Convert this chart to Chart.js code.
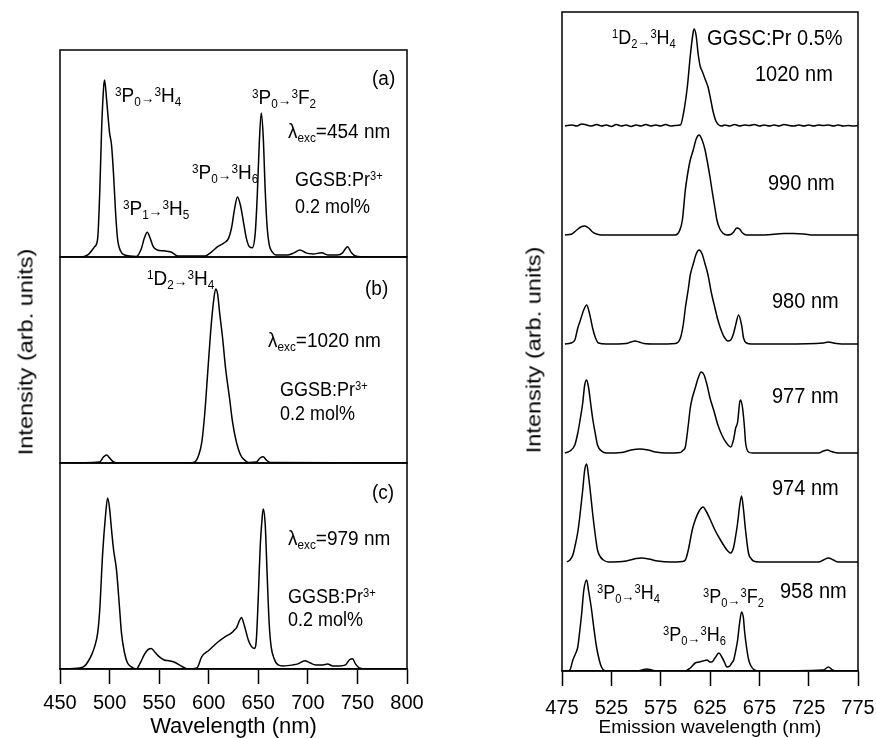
<!DOCTYPE html>
<html>
<head>
<meta charset="utf-8">
<script src="https://cdn.jsdelivr.net/npm/chart.js@4.4.1/dist/chart.umd.min.js"></script>
<style>
  body { margin: 0; background: #fff; width: 876px; height: 738px; overflow: hidden; position: relative; font-family: "Liberation Sans", Arial, sans-serif; }
  canvas { position: absolute; }
  .t { position: absolute; white-space: nowrap; line-height: 1; transform: translateY(-50%) scaleY(1.08); transform-origin: left center; color: #000; }
  .sp { font-size: 0.62em; position: relative; top: -0.55em; }
  .sb { font-size: 0.62em; position: relative; top: 0.3em; }
  .ar { font-size: 0.72em; position: relative; top: 0.05em; }
  .yl { position: absolute; white-space: nowrap; line-height: 1; color: #000; font-size: 21px; }
</style>
</head>
<body>
<canvas id="chart-a" width="407" height="211" style="left:30px;top:48px"></canvas>
<canvas id="chart-b" width="407" height="210" style="left:30px;top:255px"></canvas>
<canvas id="chart-c" width="407" height="285" style="left:30px;top:461px"></canvas>
<canvas id="chart-r" width="350" height="734" style="left:532px;top:10px"></canvas>
<div id="labels"></div>
<script>
// tick labels
const leftTicks = [450, 500, 550, 600, 650, 700, 750, 800];
const rightTicks = [475, 525, 575, 625, 675, 725, 775];

// (a) exc 454 nm
const wlA = [450, 470, 478, 485, 488, 490, 492, 494, 495, 497, 500, 502, 504, 506, 508, 511, 515, 527, 532, 535, 538, 541, 544, 548, 555, 562, 569, 596, 603, 609, 616, 620, 623, 626, 629, 632, 635, 638, 641, 644, 647, 649, 651, 653, 655, 657, 659, 661, 664, 668, 680, 686, 692, 698, 705, 714, 720, 730, 735, 740, 744, 748, 760, 800];
const intA = [0, 0, 1, 5, 9, 30, 62, 82, 85.5, 76, 60, 54, 40, 22, 9, 3, 1, 0.3, 4, 9, 12, 9, 5, 3.4, 3, 2.4, 0.5, 0.5, 2.5, 5, 7, 9, 14, 23, 29, 25, 17, 9, 5, 4.5, 12, 30, 55, 69.6, 58, 32, 14, 6, 2.5, 1, 1, 2, 3.4, 2, 1.5, 2, 1, 1, 2, 5, 2, 0.5, 0, 0];

// (b) exc 1020 nm
const wlB = [450, 490, 494, 497, 500, 504, 510, 580, 586, 590, 593, 596, 599, 602, 605, 607, 609, 611, 614, 617, 621, 624, 628, 632, 636, 640, 648, 652, 655, 658, 662, 800];
const intB = [0, 0.5, 3, 3.9, 2.5, 0.5, 0, 0, 0.5, 4, 10, 24, 44, 64, 79, 84.5, 82, 73, 60.7, 46, 31.5, 20, 10, 4, 1.5, 0.3, 0.5, 2.5, 3, 1.5, 0.3, 0];

// (c) exc 979 nm
const wlC = [450, 470, 475, 478, 482, 485, 488, 490, 493, 496, 498, 500, 502, 504, 507, 510, 512, 515, 518, 522, 527, 531, 535, 539, 542, 546, 550, 555, 560, 565, 572, 579, 588, 593, 600, 609, 616, 623, 626, 628, 631, 633, 636, 640, 643, 646, 648, 650, 652, 654, 655, 657, 659, 661, 663, 666, 670, 675, 685, 690, 697, 702, 708, 715, 720, 725, 732, 738, 742, 745, 748, 752, 760, 800];
const intC = [0, 0.5, 1.5, 3.4, 7, 11, 17.5, 28, 56, 75, 83, 78, 67.5, 58, 48, 30, 17.5, 8, 3, 1, 0, 3, 7, 9.5, 10, 8, 6, 4.4, 4, 3.4, 1.5, 0, 0.5, 6, 9, 13, 15.5, 17.5, 19, 20, 23.5, 25, 21, 14, 11, 10, 14, 35, 60, 74, 77.7, 70, 45, 22, 10.7, 5, 2, 1.5, 2, 2.5, 4, 3, 2, 2, 2.4, 1.5, 1.5, 2, 4.5, 5, 2.5, 0.5, 0, 0];

// right panel: GGSC:Pr 0.5%, excitation wavelengths
const excR = ["1020 nm", "990 nm", "980 nm", "977 nm", "974 nm", "958 nm"];

const wl1020 = [478, 485, 490, 495, 500, 505, 510, 515, 520, 525, 530, 535, 540, 545, 550, 555, 560, 565, 570, 575, 580, 585, 590, 595, 598, 602, 605, 608, 609, 611, 613, 615, 617, 620, 623, 626, 628, 631, 634, 637, 640, 645, 650, 655, 660, 665, 670, 675, 680, 685, 690, 695, 700, 705, 710, 715, 720, 725, 730, 735, 740, 745, 750, 755, 760, 765, 770, 775];
const int1020 = [0, 1, 0, 2, 1, 0, 1.5, 0, 1, -0.5, 1.5, 0, 1, -0.5, 1, 0, 1.5, 0, 1, 0, 1.5, 0, 0.5, 1, 12, 39, 70, 94, 97, 90, 72, 60, 55, 47, 39, 25, 15, 5, 1, 0, 1, 0, 1.5, 0, 1, 0.5, 1.5, 0, 1, 0, 1, 0, 1.5, 0.5, 0, 1, 0, 1, 0, 1, 0.5, 1, 0, 1, 0, 0.5, 0, 0.5];

const wl990 = [478, 485, 490, 494, 498, 502, 506, 510, 515, 590, 594, 597, 600, 603, 605, 608, 611, 614, 617, 620, 622, 625, 627, 630, 632, 635, 638, 642, 646, 649, 652, 655, 658, 662, 680, 700, 710, 720, 730, 775];
const int990 = [0, 1, 5, 8, 9, 7, 3, 1, 0, 0, 4, 15, 45, 65, 75, 85, 96, 100, 95, 85, 75, 58, 45, 27, 15, 6, 2, 0, 0.5, 3, 7, 6, 2, 0, 0, 1.5, 1.5, 1, 0, 0];

const wl980 = [478, 484, 488, 491, 494, 497, 500, 503, 506, 509, 512, 520, 540, 545, 549, 553, 558, 570, 590, 595, 598, 600, 603, 605, 608, 611, 614, 617, 620, 623, 626, 630, 633, 637, 640, 643, 646, 649, 651, 654, 657, 659, 662, 667, 700, 740, 745, 750, 760, 775];
const int980 = [0, 1, 4, 16, 25, 34, 39, 30, 16, 6, 1, 0, 0.5, 2, 3, 2, 0.5, 0, 0.5, 6, 20, 36, 55, 69, 80, 90, 94, 90, 80, 69, 53, 36, 24, 12, 6, 3, 4, 11, 19, 29, 19, 6, 1, 0, 0, 1, 2, 1, 0, 0];

const wl977 = [478, 483, 488, 491, 493, 496, 498, 500, 502, 504, 506, 509, 511, 515, 520, 535, 545, 554, 562, 570, 580, 595, 598, 600, 603, 605, 607, 610, 613, 616, 619, 622, 625, 629, 633, 637, 641, 646, 649, 651, 653, 655, 656, 658, 660, 661, 664, 668, 735, 740, 744, 748, 755, 775];
const int977 = [0, 2, 8, 20, 31, 50, 68, 73, 65, 50, 35, 18, 8, 2, 0, 0.5, 3, 4, 3, 1, 0, 0.5, 3, 6, 28, 45, 55, 65, 75, 81, 78, 68, 55, 42, 28, 18, 11, 6, 14, 25, 31, 50, 53, 45, 25, 11, 1, 0, 0, 2, 3, 1.5, 0, 0];

const wl974 = [480, 483, 486, 488, 491, 493, 496, 498, 500, 502, 504, 506, 509, 511, 514, 517, 522, 540, 550, 556, 563, 572, 585, 597, 600, 603, 607, 610, 614, 618, 621, 625, 630, 635, 640, 643, 646, 649, 651, 653, 655, 657, 659, 661, 664, 667, 669, 675, 735, 740, 745, 750, 755, 775];
const int974 = [0, 2, 7, 15, 30, 45, 72, 92, 98, 85, 68, 49, 25, 12, 5, 2, 0, 1, 3.5, 4, 3, 1, 0, 0.5, 2, 12, 32, 42, 51, 55, 51, 43, 32, 23, 15, 11, 9, 15, 26, 39, 56, 66, 52, 32, 9, 3, 1, 0, 0, 2, 4, 2, 0, 0];

const wl958 = [480, 483, 486, 489, 491, 493, 495, 497, 500, 502, 505, 507, 510, 513, 515, 519, 550, 556, 561, 566, 572, 600, 605, 610, 614, 618, 622, 625, 627, 630, 634, 637, 640, 642, 645, 647, 649, 651, 653, 655, 657, 659, 660, 662, 664, 666, 670, 675, 740, 745, 749, 755, 775];
const int958 = [0, 1, 11, 18, 24, 40, 58, 80, 91, 80, 61, 45, 24, 10, 4, 0, 0, 1, 2, 1, 0, 0, 3, 8, 9, 10, 11, 9, 9, 13, 18, 14, 8, 4, 5, 8, 11, 20, 31, 48, 59, 52, 40, 24, 12, 6, 1, 0, 1, 4, 1, 0, 0];

const SPACING = 109; // vertical offset between stacked right-panel spectra
const FONT = '"Liberation Sans", Arial, sans-serif';

const pts = (xs, ys, off = 0) => xs.map((x, i) => ({ x, y: ys[i] + off }));

const framePlugin = {
  id: "frame",
  afterDatasetsDraw(chart) {
    const { ctx, chartArea: a } = chart;
    ctx.save();
    ctx.strokeStyle = "#000";
    ctx.lineWidth = 1.5;
    ctx.strokeRect(a.left, a.top, a.right - a.left, a.bottom - a.top);
    ctx.restore();
  },
};

function lineSet(data) {
  return {
    data,
    borderColor: "#000",
    borderWidth: 1.5,
    pointRadius: 0,
    fill: false,
    cubicInterpolationMode: "monotone",
  };
}

function baseOpts(xmin, xmax, ymax, pad) {
  return {
    responsive: false,
    animation: false,
    devicePixelRatio: 1,
    layout: { padding: pad },
    plugins: { legend: { display: false }, tooltip: { enabled: false } },
    scales: {
      x: { type: "linear", min: xmin, max: xmax, display: false },
      y: { min: 0, max: ymax, display: false },
    },
  };
}

// tick label centre = axis top + 15 + 3 + tickLH/2; title centre = axis bottom - titleLH/2
function xAxis(xmin, xmax, ticks, title, titleSize, tickLH, titleLH, titleTop) {
  return {
    type: "linear",
    min: xmin,
    max: xmax,
    grid: { drawOnChartArea: false, drawTicks: true, tickLength: 15, tickWidth: 1.5, tickColor: "#000" },
    border: { display: true, color: "#000", width: 1.5 },
    afterBuildTicks: (s) => { s.ticks = ticks.map((v) => ({ value: v })); },
    ticks: { color: "#000", font: { size: 20, family: FONT, lineHeight: tickLH }, padding: 3, maxRotation: 0, autoSkip: false },
    title: { display: true, text: title, color: "#000", font: { size: titleSize, family: FONT, lineHeight: titleLH }, padding: { top: titleTop, bottom: 0 } },
  };
}

new Chart(document.getElementById("chart-a"), {
  type: "line",
  data: { datasets: [lineSet(pts(wlA, intA))] },
  options: baseOpts(450, 800, 100, { left: 30, right: 30, top: 2, bottom: 2 }),
  plugins: [framePlugin],
});

new Chart(document.getElementById("chart-b"), {
  type: "line",
  data: { datasets: [lineSet(pts(wlB, intB))] },
  options: baseOpts(450, 800, 100, { left: 30, right: 30, top: 2, bottom: 2 }),
  plugins: [framePlugin],
});

const optsC = baseOpts(450, 800, 100, { left: 30, right: 30, top: 2, bottom: 14 });
optsC.scales.x = xAxis(450, 800, leftTicks, "Wavelength (nm)", 22, 1.6, 10 / 22, 0);
new Chart(document.getElementById("chart-c"), {
  type: "line",
  data: { datasets: [lineSet(pts(wlC, intC))] },
  options: optsC,
  plugins: [framePlugin],
});

const rightSets = [
  [wl1020, int1020],
  [wl990, int990],
  [wl980, int980],
  [wl977, int977],
  [wl974, int974],
  [wl958, int958],
];
const optsR = baseOpts(475, 775, 659, { left: 30, right: 24, top: 2, bottom: 14 });
optsR.scales.x = xAxis(475, 775, rightTicks, "Emission wavelength (nm)", 19, 1.9, 4 / 19, -4);
new Chart(document.getElementById("chart-r"), {
  type: "line",
  data: {
    datasets: rightSets.map(([xs, ys], i) => ({
      label: excR[i],
      ...lineSet(pts(xs, ys, (rightSets.length - 1 - i) * SPACING)),
    })),
  },
  options: optsR,
  plugins: [framePlugin],
});

// annotations
const sp = (t) => `<span class="sp">${t}</span>`;
const sb = (t) => `<span class="sb">${t}</span>`;
const ar = `<span class="ar">→</span>`;
const tr = (a, b, c, d, e, f) => `${sp(a)}${b}${sb(c)}${ar}${sp(d)}${e}${sb(f)}`;
const exc = (v) => `λ${sb("exc")}=${v}`;
const ggsb = `GGSB:Pr${sp("3+")}`;

const notes = [
  [115, 95, 19, tr("3", "P", "0", "3", "H", "4")],
  [123, 208, 19, tr("3", "P", "1", "3", "H", "5")],
  [192, 172, 19, tr("3", "P", "0", "3", "H", "6")],
  [252, 97, 19, tr("3", "P", "0", "3", "F", "2")],
  [372, 78, 19, "(a)"],
  [288, 131, 19, exc("454 nm")],
  [295, 180, 18, ggsb],
  [295, 207, 18, "0.2 mol%"],
  [147, 278, 19, tr("1", "D", "2", "3", "H", "4")],
  [365, 288, 19, "(b)"],
  [268, 340, 19, exc("1020 nm")],
  [280, 390, 18, ggsb],
  [280, 414, 18, "0.2 mol%"],
  [372, 492, 19, "(c)"],
  [288, 538, 19, exc("979 nm")],
  [288, 597, 18, ggsb],
  [288, 620, 18, "0.2 mol%"],
  [612, 38, 18, tr("1", "D", "2", "3", "H", "4")],
  [707, 37, 20, "GGSC:Pr 0.5%"],
  [755, 73, 20, excR[0]],
  [768, 182, 20, excR[1]],
  [772, 300, 20, excR[2]],
  [772, 395, 20, excR[3]],
  [772, 487, 20, excR[4]],
  [780, 590, 20, excR[5]],
  [597, 593, 18, tr("3", "P", "0", "3", "H", "4")],
  [703, 597, 18, tr("3", "P", "0", "3", "F", "2")],
  [663, 635, 18, tr("3", "P", "0", "3", "H", "6")],
];

const box = document.getElementById("labels");
notes.forEach(([x, y, size, html]) => {
  const d = document.createElement("div");
  d.className = "t";
  d.style.left = x + "px";
  d.style.top = y + "px";
  d.style.fontSize = size + "px";
  d.innerHTML = html;
  box.appendChild(d);
});

// rotated y titles
[[25, 352], [533, 350]].forEach(([cx, cy]) => {
  const d = document.createElement("div");
  d.className = "yl";
  d.textContent = "Intensity (arb. units)";
  d.style.left = cx + "px";
  d.style.top = cy + "px";
  d.style.transform = "translate(-50%, -50%) rotate(-90deg) scaleX(1.12)";
  box.appendChild(d);
});
</script>
</body>
</html>
